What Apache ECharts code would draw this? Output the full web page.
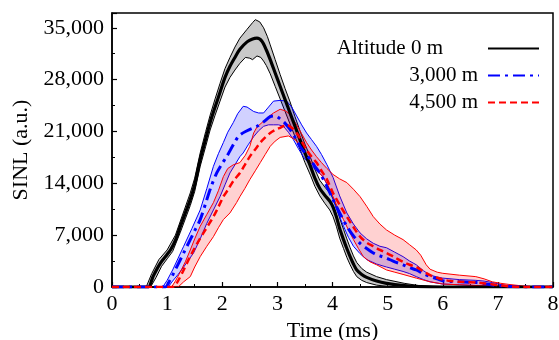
<!DOCTYPE html>
<html>
<head>
<meta charset="utf-8">
<script src="https://cdn.jsdelivr.net/npm/echarts@6/dist/echarts.min.js"></script>
<style>html,body{margin:0;padding:0;background:#fff}#c{width:559px;height:340px}</style>
</head>
<body>
<div id="c"></div>
<script>
const seriesNames = ['Altitude 0 m', '3,000 m', '4,500 m'];
const xLabel = 'Time (ms)';
const yLabel = 'SINL (a.u.)';

const blackMean = [[0,0],[0.6,0],[0.66,0],[0.75,1500],[0.875,3200],[1.0,4400],[1.06,5000],[1.15,6300],[1.24,8200],[1.33,10000],[1.42,11800],[1.5,13800],[1.6,17200],[1.7,20000],[1.78,22200],[1.87,24300],[1.96,26300],[2.05,28300],[2.14,29800],[2.23,31000],[2.32,32100],[2.45,33100],[2.55,33500],[2.63,33600],[2.72,33200],[2.8,32000],[2.87,30700],[2.96,28900],[3.05,27100],[3.14,25300],[3.23,23500],[3.32,21700],[3.41,19900],[3.5,18100],[3.6,16300],[3.68,14700],[3.77,13300],[3.86,12400],[3.95,11600],[4.01,10800],[4.07,9500],[4.13,7900],[4.2,6400],[4.26,5200],[4.32,4100],[4.38,3100],[4.44,2300],[4.53,1700],[4.62,1300],[4.8,800],[4.98,500],[5.3,200],[5.6,50],[6,0],[8,0]];
const blackUpper = [[0.62,0],[0.72,1800],[0.85,3700],[1.0,5000],[1.15,7000],[1.24,8900],[1.33,10800],[1.42,12700],[1.5,14700],[1.6,18100],[1.7,21000],[1.78,23200],[1.87,25400],[1.96,27500],[2.05,29500],[2.14,31000],[2.23,32400],[2.32,33600],[2.45,34800],[2.55,35700],[2.6,36100],[2.68,35800],[2.75,35000],[2.82,33800],[2.87,32700],[2.96,30700],[3.05,28700],[3.14,26800],[3.23,25000],[3.32,23000],[3.41,21100],[3.5,19300],[3.6,17500],[3.68,15900],[3.77,14400],[3.86,13500],[3.95,12700],[4.01,12000],[4.07,10900],[4.13,9300],[4.2,7800],[4.26,6500],[4.32,5300],[4.38,4200],[4.44,3300],[4.53,2500],[4.62,2000],[4.8,1400],[4.98,1000],[5.3,500],[5.6,150],[6,0],[8,0]];
const blackLower = [[0.7,0],[0.8,1300],[0.9,2800],[1.0,3800],[1.1,4800],[1.24,7400],[1.33,9200],[1.42,11000],[1.5,12900],[1.6,16300],[1.7,19000],[1.78,21200],[1.87,23200],[1.96,25100],[2.05,27000],[2.14,28300],[2.23,29300],[2.32,30200],[2.42,31000],[2.5,30900],[2.55,30700],[2.63,31200],[2.7,31000],[2.75,30500],[2.8,29900],[2.87,28800],[2.96,27100],[3.05,25400],[3.14,23700],[3.23,22000],[3.32,20300],[3.41,18600],[3.5,16800],[3.6,15100],[3.68,13600],[3.77,12300],[3.86,11300],[3.95,10400],[4.01,9500],[4.07,8200],[4.13,6600],[4.2,5200],[4.26,4000],[4.32,3000],[4.38,2100],[4.44,1400],[4.53,900],[4.62,600],[4.8,250],[4.98,100],[5.2,0],[8,0]];

const blueMean = [[0,0],[0.9,0],[0.97,0],[1.05,900],[1.12,1900],[1.2,3100],[1.3,4600],[1.42,6400],[1.5,7600],[1.6,9100],[1.72,11800],[1.8,13600],[1.9,15400],[2.0,16700],[2.08,17600],[2.2,19200],[2.3,20400],[2.45,21100],[2.63,21700],[2.75,22300],[2.87,23000],[2.96,23100],[3.05,22700],[3.14,22100],[3.23,21300],[3.32,20200],[3.41,19000],[3.5,18100],[3.6,17200],[3.68,16300],[3.77,15400],[3.89,13700],[4.01,11800],[4.13,10000],[4.26,8200],[4.38,6900],[4.5,5900],[4.62,5200],[4.74,4600],[4.86,4200],[4.98,3900],[5.13,3400],[5.28,3000],[5.4,2600],[5.52,2300],[5.65,1800],[5.77,1400],[5.9,1100],[6.0,850],[6.15,750],[6.31,700],[6.46,650],[6.61,600],[6.76,450],[6.91,270],[7.05,180],[7.2,100],[7.5,0],[8,0]];
const blueUpper = [[0.92,0],[1.0,900],[1.1,2300],[1.2,3900],[1.3,5500],[1.45,7900],[1.6,10400],[1.72,13300],[1.84,16300],[1.93,18000],[2.02,19500],[2.1,20900],[2.2,22200],[2.28,23400],[2.38,24400],[2.45,24300],[2.57,23700],[2.66,23500],[2.75,23500],[2.84,24300],[2.93,25100],[3.05,25200],[3.17,25100],[3.26,24300],[3.35,23100],[3.44,21900],[3.53,20800],[3.62,19900],[3.71,19000],[3.8,17900],[3.9,16500],[4.01,14800],[4.13,12300],[4.26,10000],[4.38,8500],[4.5,7300],[4.62,6500],[4.74,5900],[4.86,5500],[4.98,5300],[5.13,4700],[5.28,4100],[5.4,3500],[5.52,3000],[5.65,2200],[5.77,1600],[5.9,1350],[6.0,1200],[6.3,1000],[6.6,900],[6.75,800],[6.9,600],[7.05,350],[7.2,150],[7.5,0],[8,0]];
const blueLower = [[1.02,0],[1.1,800],[1.2,1700],[1.3,2700],[1.48,4600],[1.6,6500],[1.72,8600],[1.84,10400],[1.96,12200],[2.05,13800],[2.14,15400],[2.23,16500],[2.32,17600],[2.38,18100],[2.47,19200],[2.57,20300],[2.66,21100],[2.75,21700],[2.84,21900],[2.93,21900],[3.02,21900],[3.11,21700],[3.2,20900],[3.29,19900],[3.38,18700],[3.47,17600],[3.56,16800],[3.65,16100],[3.74,15500],[3.83,14900],[3.92,13500],[4.01,11800],[4.1,10000],[4.2,8200],[4.29,6700],[4.38,5500],[4.5,4500],[4.62,3700],[4.8,3100],[4.98,2700],[5.13,2400],[5.28,2100],[5.4,1800],[5.52,1400],[5.65,1000],[5.77,700],[6.0,400],[6.3,300],[6.6,200],[7.0,100],[7.3,0],[8,0]];

const redMean = [[0,0],[1.1,0],[1.18,600],[1.3,2300],[1.39,3700],[1.48,5000],[1.57,6200],[1.66,7300],[1.75,8400],[1.84,9500],[1.93,10800],[2.02,12200],[2.11,13200],[2.2,14300],[2.32,15400],[2.41,16500],[2.5,17600],[2.6,18600],[2.69,19500],[2.78,20200],[2.87,20800],[2.96,21200],[3.05,21500],[3.17,21900],[3.26,21500],[3.35,20800],[3.44,19700],[3.53,18500],[3.62,17600],[3.71,16800],[3.8,15700],[3.9,14500],[4.01,12700],[4.13,11100],[4.26,9500],[4.38,8100],[4.5,6800],[4.62,6000],[4.74,5500],[4.86,5000],[4.98,4600],[5.13,4000],[5.28,3400],[5.4,3000],[5.52,2700],[5.65,2100],[5.77,1600],[5.9,1250],[6.0,1000],[6.15,800],[6.31,700],[6.46,650],[6.61,600],[6.76,480],[6.91,350],[7.05,220],[7.2,100],[7.5,0],[8,0]];
const redUpper = [[1.08,0],[1.15,800],[1.25,2200],[1.33,3400],[1.42,5000],[1.5,6500],[1.6,8200],[1.72,9800],[1.84,11400],[1.93,13000],[2.02,14900],[2.1,16000],[2.2,16500],[2.32,16800],[2.42,17800],[2.5,19000],[2.57,20800],[2.63,21600],[2.75,22400],[2.84,23000],[2.93,23500],[3.05,24000],[3.14,23800],[3.2,23500],[3.28,22700],[3.35,21900],[3.44,20700],[3.53,19500],[3.62,18500],[3.71,17600],[3.8,16800],[3.9,16000],[4.01,15200],[4.13,14600],[4.26,14100],[4.38,13200],[4.5,12200],[4.62,10900],[4.74,9500],[4.86,8500],[4.98,7700],[5.13,7000],[5.28,6400],[5.4,5700],[5.52,5000],[5.6,4300],[5.7,3000],[5.77,2400],[5.9,2000],[6.0,1850],[6.3,1600],[6.6,1400],[6.75,1100],[6.9,700],[7.05,500],[7.2,350],[7.5,100],[7.8,0],[8,0]];
const redLower = [[1.2,0],[1.3,700],[1.42,1400],[1.5,2700],[1.6,4100],[1.72,5500],[1.84,6800],[1.93,8000],[2.02,9100],[2.14,10000],[2.26,11400],[2.32,12200],[2.41,13300],[2.5,14500],[2.6,15700],[2.69,16800],[2.78,17900],[2.87,19000],[2.96,19700],[3.05,20200],[3.2,20400],[3.3,20000],[3.35,19700],[3.44,18600],[3.53,17600],[3.62,16700],[3.71,15800],[3.8,15100],[3.9,14000],[4.01,12200],[4.1,10600],[4.2,9100],[4.29,7700],[4.38,6400],[4.47,5200],[4.56,4100],[4.68,3400],[4.8,3000],[4.98,2300],[5.13,2000],[5.28,1700],[5.52,1200],[5.77,700],[6.0,400],[6.3,300],[6.6,200],[7.0,100],[7.4,0],[8,0]];

const FONT = "'Liberation Serif', 'Times New Roman', serif";

function band(upper, lower, fill, stroke) {
  return {
    type: 'custom',
    silent: true,
    clip: true,
    data: [[upper[0][0], upper[0][1]]],
    renderItem: function (params, api) {
      const pts = [];
      upper.forEach(p => pts.push(api.coord(p)));
      for (let i = lower.length - 1; i >= 0; i--) pts.push(api.coord(lower[i]));
      return {
        type: 'polygon',
        shape: { points: pts, smooth: 0 },
        style: { fill: fill, stroke: stroke, lineWidth: 1 }
      };
    },
    z: 2
  };
}

function meanLine(name, data, color, width, dash) {
  return {
    name: name, type: 'line', data: data, showSymbol: false, symbol: 'none',
    smooth: 0.3, animation: false, z: 5,
    itemStyle: { color: color },
    lineStyle: { color: color, width: width, type: dash }
  };
}

const chart = echarts.init(document.getElementById('c'), null, { renderer: 'canvas' });
function legendFor(i, top, padRight) {
  return {
    data: [seriesNames[i]], right: 14, top: top,
    orient: 'vertical', align: 'right', itemWidth: 51, itemHeight: 14,
    selectedMode: false,
    itemStyle: { opacity: 0 },
    textStyle: { fontFamily: FONT, fontSize: 21, color: '#000', padding: [0, padRight, 0, 0] }
  };
}
chart.setOption({
  animation: false,
  backgroundColor: '#fff',
  grid: { left: 112, right: 6, top: 13, bottom: 53, outerBoundsMode: 'none', containLabel: false,
    show: true, borderColor: '#000', borderWidth: 1.5, backgroundColor: 'transparent' },
  legend: [ legendFor(0, 33, 40), legendFor(1, 60, 5), legendFor(2, 87, 5) ],
  xAxis: {
    type: 'value', min: 0, max: 8, interval: 1,
    name: xLabel, nameLocation: 'middle', nameGap: 28,
    nameTextStyle: { fontFamily: FONT, fontSize: 22, color: '#000' },
    axisLine: { show: true, lineStyle: { color: '#000', width: 1.5 } },
    axisTick: { show: true, inside: true, length: 5, lineStyle: { color: '#000', width: 1.2 } },
    minorTick: { show: true, splitNumber: 2, length: 3, lineStyle: { color: '#000', width: 1 } },
    axisLabel: { fontFamily: FONT, fontSize: 22, color: '#000', margin: 6 },
    splitLine: { show: false }
  },
  yAxis: {
    type: 'value', min: 0, max: 37000, interval: 7000,
    name: yLabel, nameLocation: 'middle', nameGap: 77,
    nameTextStyle: { fontFamily: FONT, fontSize: 22, color: '#000' },
    axisLine: { show: true, lineStyle: { color: '#000', width: 1.5 } },
    axisTick: { show: true, inside: true, length: 5, lineStyle: { color: '#000', width: 1.2 } },
    minorTick: { show: true, splitNumber: 2, length: 3, lineStyle: { color: '#000', width: 1 } },
    axisLabel: { fontFamily: FONT, fontSize: 22, color: '#000', margin: 8,
      formatter: v => v.toLocaleString('en-US'),
      showMaxLabel: false },
    splitLine: { show: false }
  },
  series: [
    band(blackUpper, blackLower, 'rgba(120,120,120,0.4)', '#000'),
    band(blueUpper, blueLower, 'rgba(0,0,255,0.18)', '#0000ff'),
    band(redUpper, redLower, 'rgba(255,0,0,0.18)', '#ff0000'),
    meanLine(seriesNames[0], blackMean, '#000', 3.2, 'solid'),
    meanLine(seriesNames[1], blueMean, '#0000ff', 3, [12, 5, 3, 5]),
    meanLine(seriesNames[2], redMean, '#ff0000', 2.5, [7, 4])
  ]
});
</script>
</body>
</html>
